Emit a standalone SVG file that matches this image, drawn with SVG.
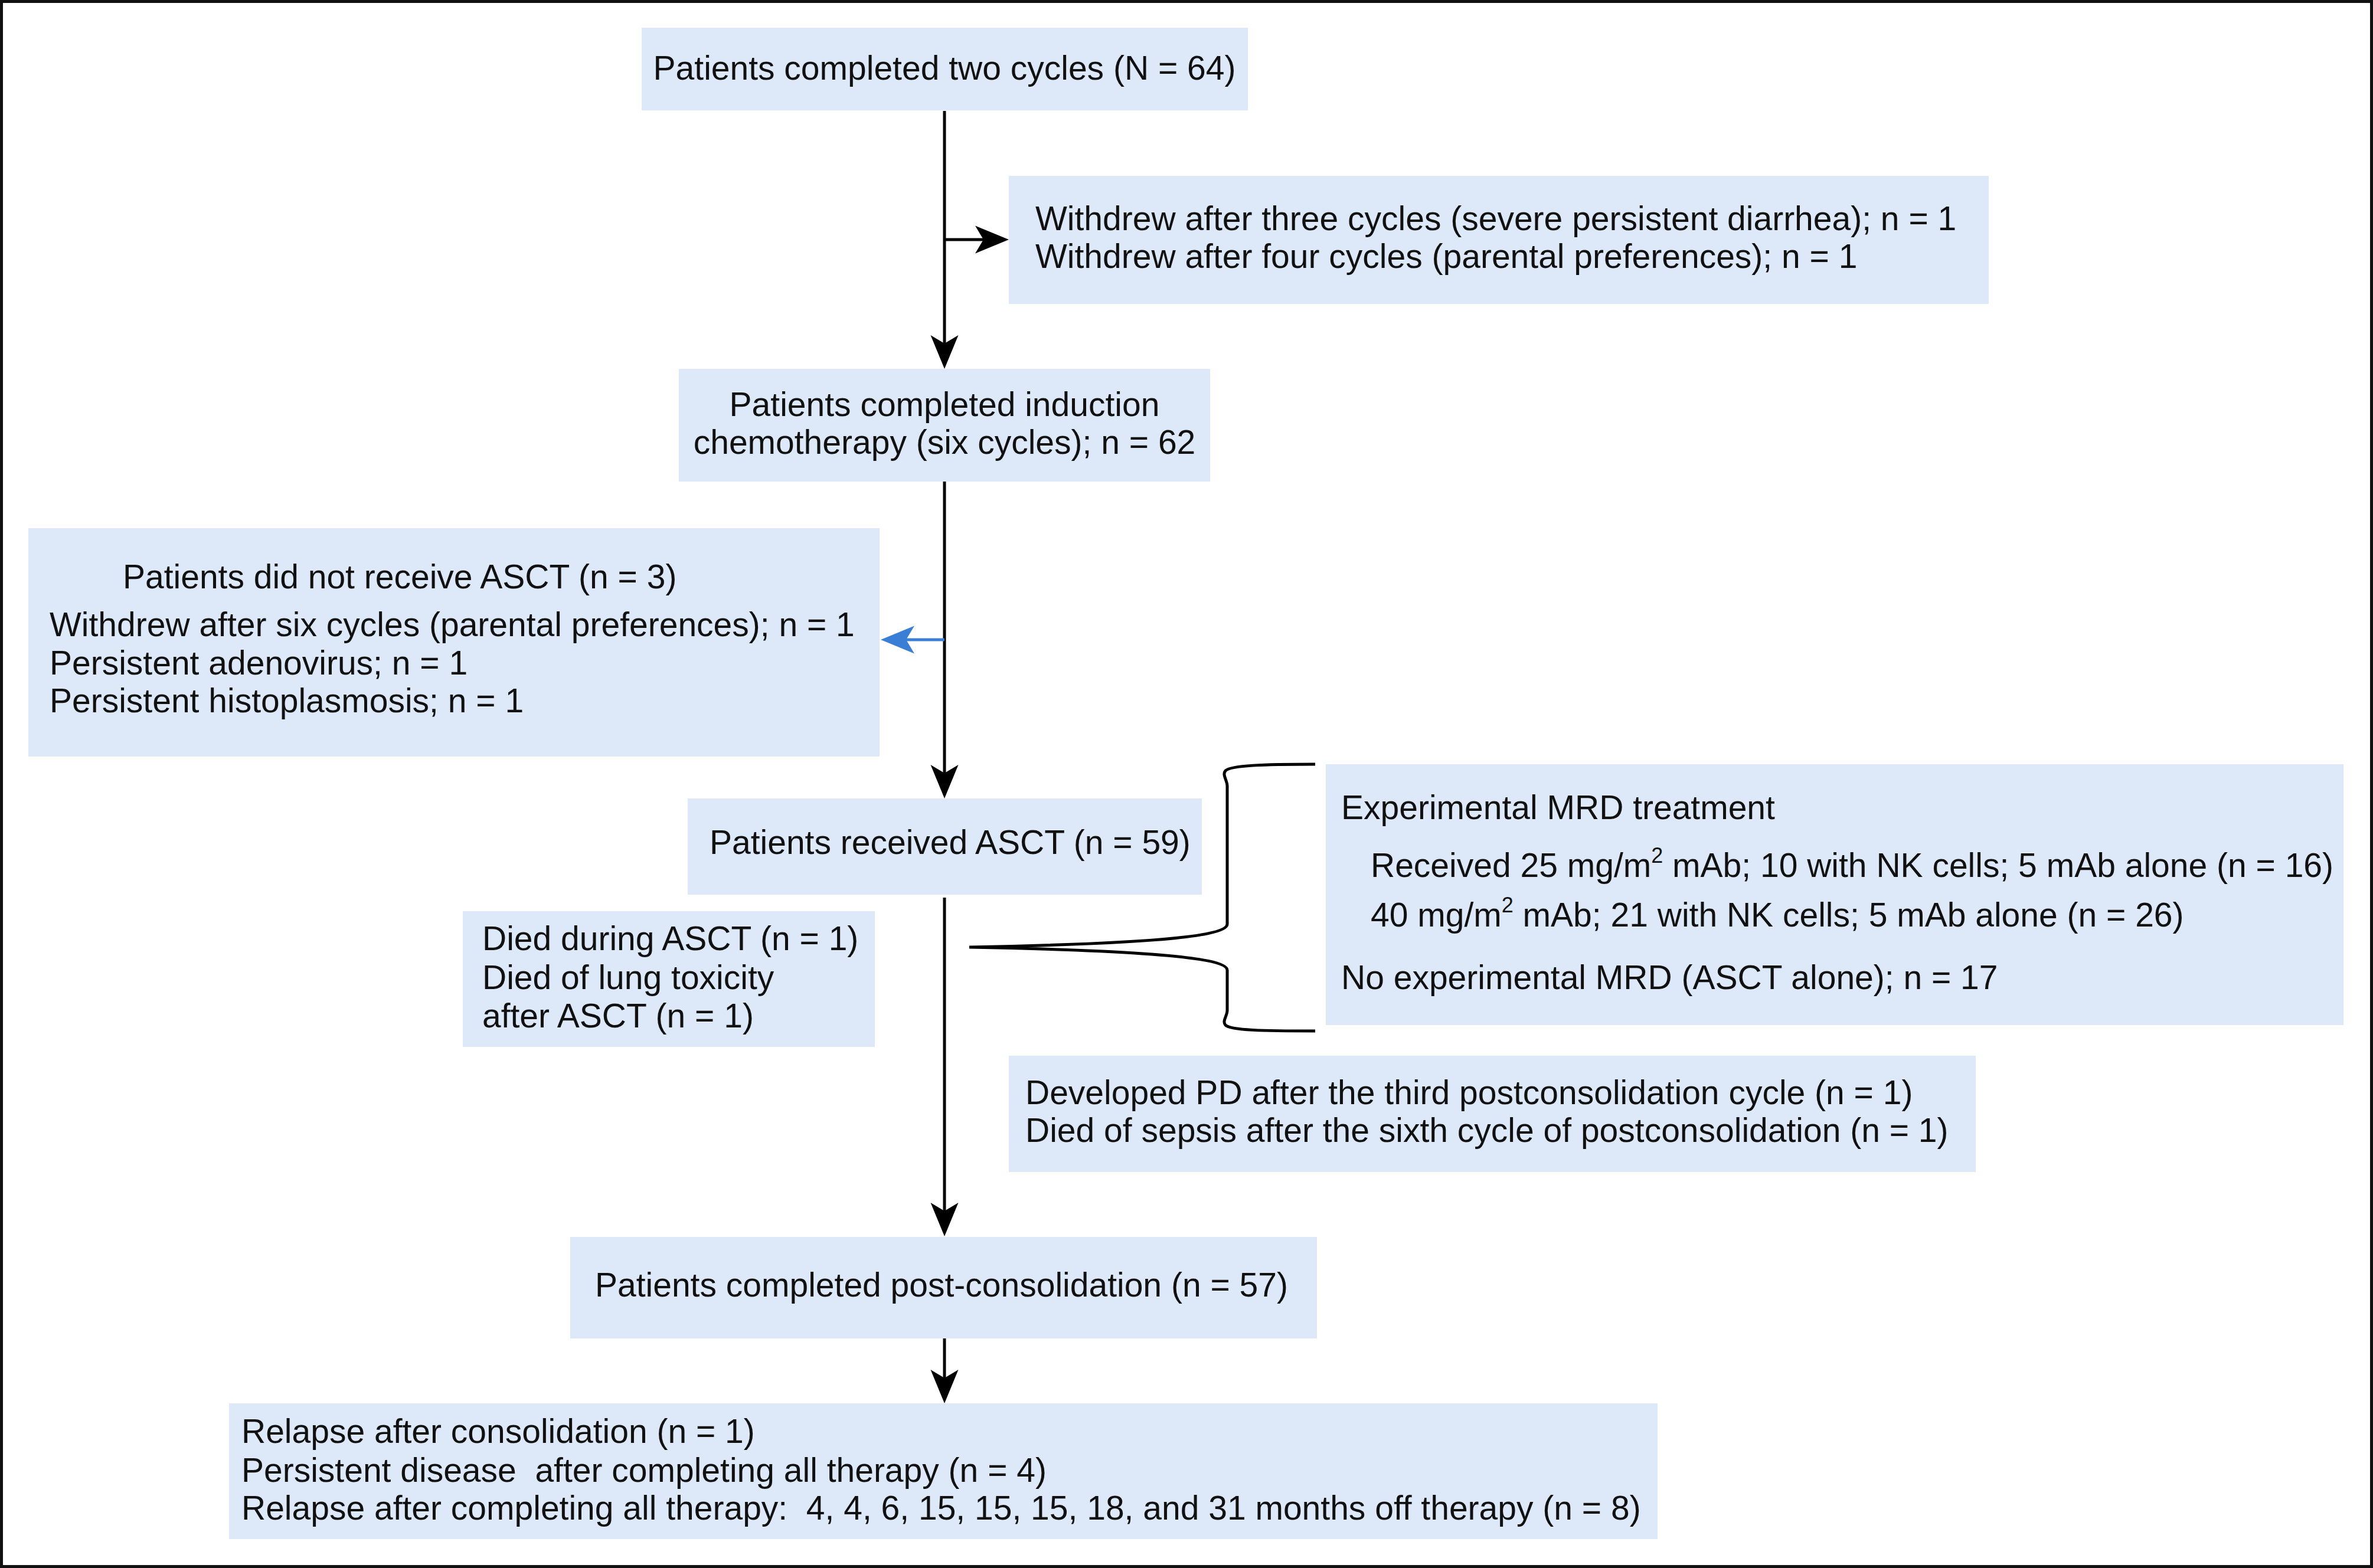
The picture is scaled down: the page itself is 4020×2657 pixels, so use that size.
<svg xmlns="http://www.w3.org/2000/svg" width="4020" height="2657" viewBox="0 0 4020 2657">
<style>
.box{fill:#dde9f8}
.t{font-family:"Liberation Sans",Arial,sans-serif;font-size:57px;fill:#111}
.m{text-anchor:middle}
.ln{stroke:#000;stroke-width:5;fill:none}
.bl{stroke:#3a7fd5;stroke-width:5;fill:none}
</style>
<defs>
<marker id="ah" markerUnits="userSpaceOnUse" viewBox="0 -24 58 48" markerWidth="58" markerHeight="48" refX="14" refY="0" orient="auto">
<path d="M0,-23.5 L57,0 L0,23.5 L14,0 Z" fill="#000"/>
</marker>
<marker id="ahb" markerUnits="userSpaceOnUse" viewBox="0 -24 58 48" markerWidth="58" markerHeight="48" refX="14" refY="0" orient="auto">
<path d="M0,-23.5 L57,0 L0,23.5 L14,0 Z" fill="#3a7fd5"/>
</marker>
</defs>
<rect x="2.5" y="2.5" width="4015" height="2652" fill="#fff" stroke="#111" stroke-width="5"/>

<g id="connectors">
<line class="ln" x1="1600" y1="188" x2="1600" y2="582" marker-end="url(#ah)"/>
<line class="ln" x1="1600" y1="406" x2="1666" y2="406" stroke-width="6" marker-end="url(#ah)"/>
<line class="ln" x1="1600" y1="816" x2="1600" y2="1310" marker-end="url(#ah)"/>
<line class="bl" x1="1600" y1="1084" x2="1535" y2="1084" marker-end="url(#ahb)"/>
<line class="ln" x1="1600" y1="1521" x2="1600" y2="2052" marker-end="url(#ah)"/>
<line class="ln" x1="1600" y1="2268" x2="1600" y2="2335" marker-end="url(#ah)"/>
<path class="ln" d="M2228,1295 C2140,1295 2085,1297 2076,1306 C2070,1313 2079,1322 2079,1332 L2079,1566 C2079,1590 1900,1600 1642,1605 C1900,1610 2079,1620 2079,1644 L2079,1712 C2079,1722 2070,1730 2076,1737 C2085,1746 2140,1747 2228,1747"/>
</g>

<g id="n1">
<rect class="box" x="1087" y="47" width="1027" height="140"/>
<text class="t m" x="1600" y="135">Patients completed two cycles (N = 64)</text>
</g>
<g id="n2">
<rect class="box" x="1709" y="298" width="1660" height="217"/>
<text class="t" x="1754" y="390">Withdrew after three cycles (severe persistent diarrhea); n = 1</text>
<text class="t" x="1754" y="454">Withdrew after four cycles (parental preferences); n = 1</text>
</g>
<g id="n3">
<rect class="box" x="1150" y="625" width="900" height="191"/>
<text class="t m" x="1600" y="705">Patients completed induction</text>
<text class="t m" x="1600" y="769">chemotherapy (six cycles); n = 62</text>
</g>
<g id="n4">
<rect class="box" x="48" y="895" width="1442" height="387"/>
<text class="t" x="208" y="997">Patients did not receive ASCT (n = 3)</text>
<text class="t" x="84" y="1078">Withdrew after six cycles (parental preferences); n = 1</text>
<text class="t" x="84" y="1143">Persistent adenovirus; n = 1</text>
<text class="t" x="84" y="1207">Persistent histoplasmosis; n = 1</text>
</g>
<g id="n5">
<rect class="box" x="1165" y="1353" width="871" height="163"/>
<text class="t" x="1202" y="1447">Patients received ASCT (n = 59)</text>
</g>
<g id="n6">
<rect class="box" x="784" y="1544" width="698" height="230"/>
<text class="t" x="817" y="1610">Died during ASCT (n = 1)</text>
<text class="t" x="817" y="1676">Died of lung toxicity</text>
<text class="t" x="817" y="1741">after ASCT (n = 1)</text>
</g>
<g id="n7">
<rect class="box" x="2246" y="1295" width="1724" height="442"/>
<text class="t" x="2272" y="1388">Experimental MRD treatment</text>
<text class="t" x="2322" y="1486">Received 25 mg/m<tspan font-size="36" dy="-24">2</tspan><tspan dy="24"> mAb; 10 with NK cells; 5 mAb alone (n = 16)</tspan></text>
<text class="t" x="2322" y="1570">40 mg/m<tspan font-size="36" dy="-24">2</tspan><tspan dy="24"> mAb; 21 with NK cells; 5 mAb alone (n = 26)</tspan></text>
<text class="t" x="2272" y="1676">No experimental MRD (ASCT alone); n = 17</text>
</g>
<g id="n8">
<rect class="box" x="1709" y="1789" width="1638" height="197"/>
<text class="t" x="1737" y="1871">Developed PD after the third postconsolidation cycle (n = 1)</text>
<text class="t" x="1737" y="1935">Died of sepsis after the sixth cycle of postconsolidation (n = 1)</text>
</g>
<g id="n9">
<rect class="box" x="966" y="2096" width="1265" height="172"/>
<text class="t" x="1008" y="2197">Patients completed post-consolidation (n = 57)</text>
</g>
<g id="n10">
<rect class="box" x="388" y="2378" width="2420" height="230"/>
<text class="t" x="409" y="2445">Relapse after consolidation (n = 1)</text>
<text class="t" x="409" y="2511" xml:space="preserve">Persistent disease  after completing all therapy (n = 4)</text>
<text class="t" x="409" y="2575" xml:space="preserve">Relapse after completing all therapy:  4, 4, 6, 15, 15, 15, 18, and 31 months off therapy (n = 8)</text>
</g>
</svg>
